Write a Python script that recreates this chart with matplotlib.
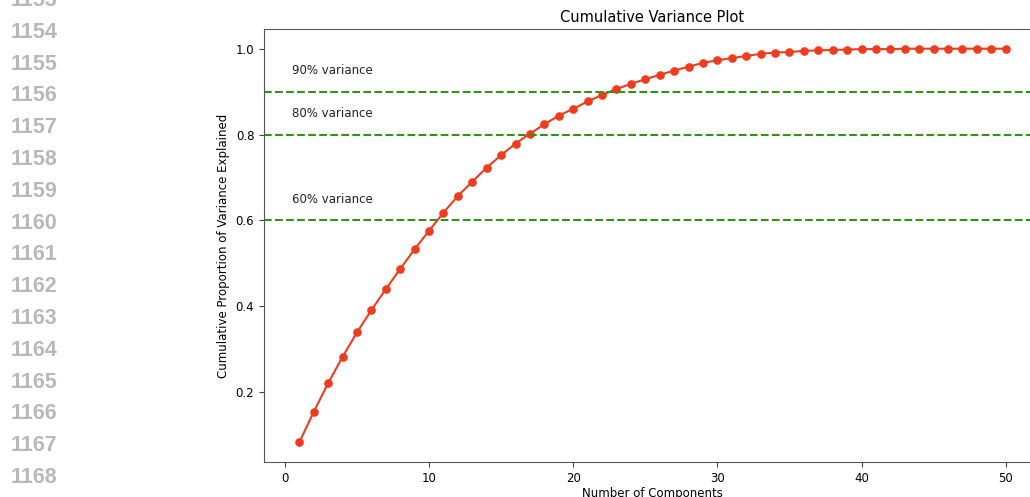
import matplotlib
matplotlib.use("Agg")
import matplotlib.pyplot as plt
import numpy as np

# cumulative explained variance
n_components = list(range(1, 51))
cum_variance = [0.083, 0.154, 0.221, 0.282, 0.339, 0.391, 0.440, 0.487, 0.533, 0.576,
                0.618, 0.657, 0.690, 0.723, 0.752, 0.779, 0.802, 0.824, 0.844, 0.860,
                0.877, 0.892, 0.906, 0.918, 0.929, 0.939, 0.949, 0.958, 0.967, 0.973,
                0.978, 0.983, 0.988, 0.991, 0.992, 0.995, 0.996, 0.997, 0.998, 0.999,
                0.999, 0.999, 1.0, 1.0, 1.0, 1.0, 1.0, 1.0, 1.0, 1.0]
thresholds = [0.9, 0.8, 0.6]
threshold_labels = ["90% variance", "80% variance", "60% variance"]
line_numbers = list(range(1153, 1169))

fig = plt.figure(figsize=(10.30, 4.97), dpi=100)
ax = fig.add_axes([264 / 1030, 35 / 497, (1041 - 264) / 1030, (462 - 29) / 497])

ax.plot(n_components, cum_variance, color='#f03c1e', marker='o', markersize=5.2, linewidth=1.5)
for t, lab in zip(thresholds, threshold_labels):
    ax.axhline(t, color='#2e9414', linestyle='--', linewidth=1.5)
    ax.text(0.5, t + 0.04, lab, fontsize=8.5, color='#222222')

ax.set_title("Cumulative Variance Plot", fontsize=10.5, pad=5)
ax.set_xlabel("Number of Components", fontsize=8.5, labelpad=2)
ax.set_ylabel("Cumulative Proportion of Variance Explained", fontsize=8.5)
ax.tick_params(labelsize=8.5, color='#444444', length=3.5)
for side in ['left', 'bottom', 'top']:
    ax.spines[side].set_color('#555555')
ax.spines['right'].set_visible(False)
ax.set_yticks([0.2, 0.4, 0.6, 0.8, 1.0])
ax.set_xticks([0, 10, 20, 30, 40, 50])

# line numbers of the surrounding page
for i, num in enumerate(line_numbers):
    y = 0.5 + 31.8 * i
    fig.text(11 / 1030, 1 - y / 497, str(num), fontsize=15.5, fontweight='bold',
             color='#b8b8b8', family='Liberation Sans', va='center', ha='left')

fig.savefig("out.png", dpi=100)
